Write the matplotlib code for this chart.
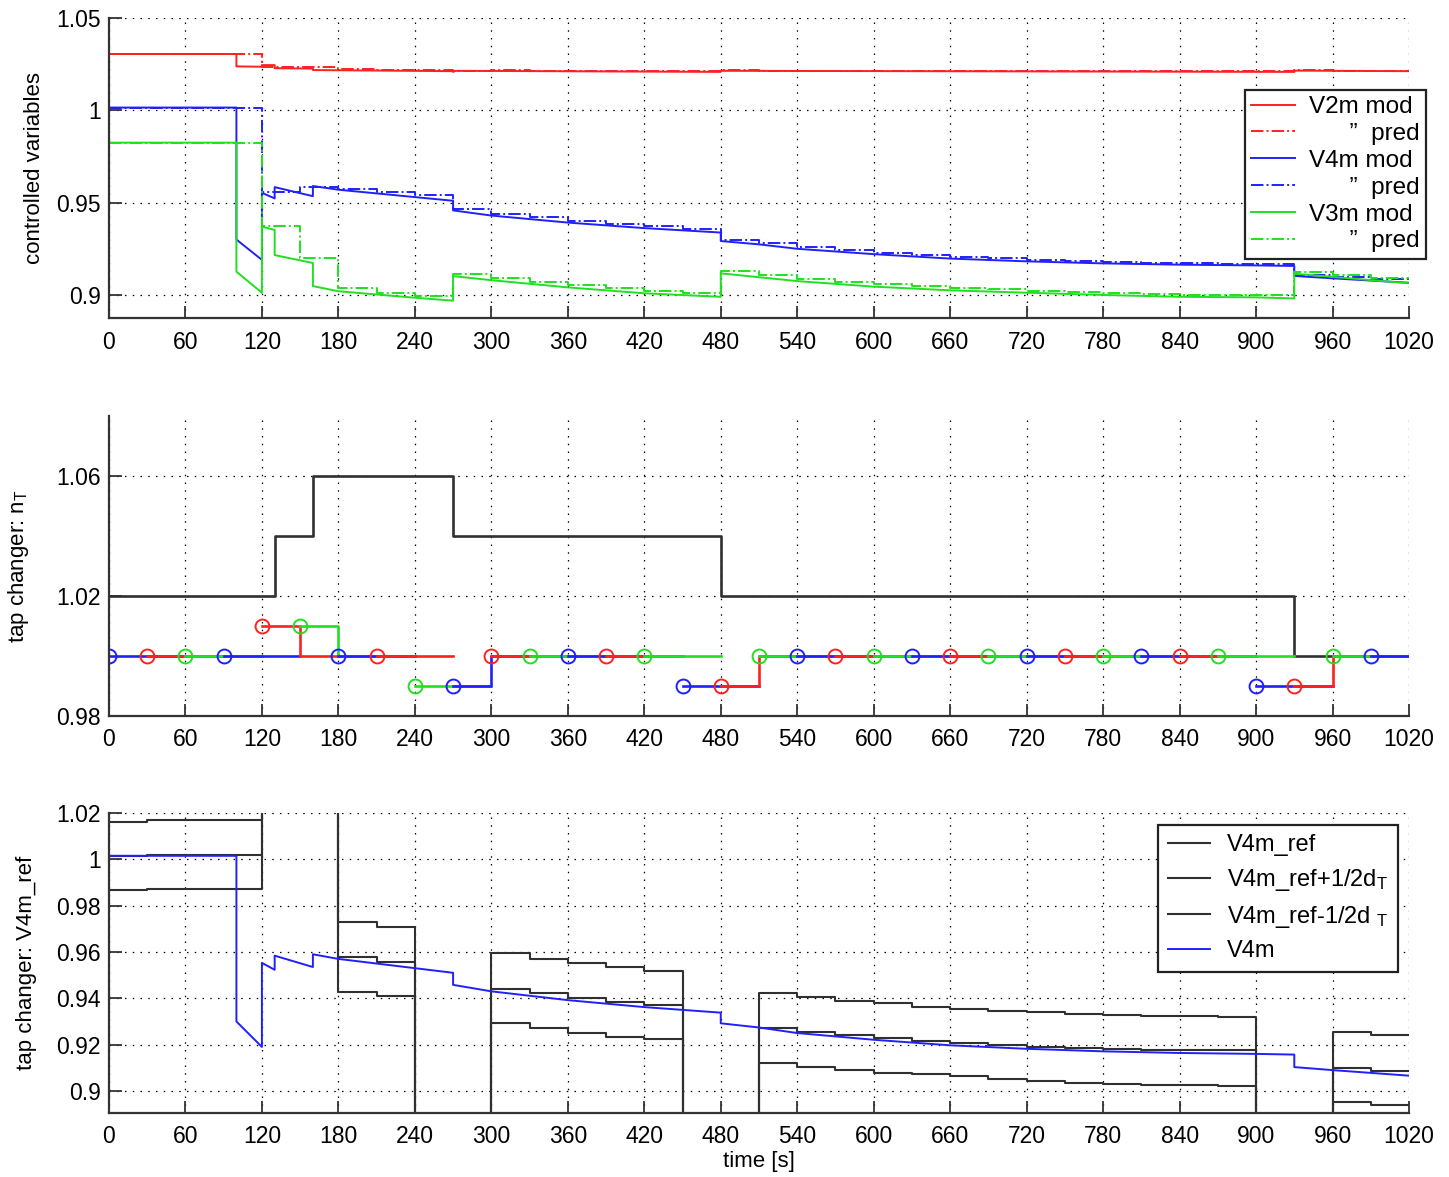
import matplotlib
matplotlib.use("Agg")
from matplotlib import pyplot as plt
from matplotlib.ticker import FuncFormatter

plt.rcParams['font.family'] = ['Liberation Sans', 'DejaVu Sans']
plt.rcParams['font.size'] = 16
plt.rcParams['mathtext.fontset'] = 'custom'
plt.rcParams['mathtext.rm'] = 'Liberation Sans'
plt.rcParams['mathtext.it'] = 'Liberation Sans'

RED = '#ff2020'
BLUE = '#2020ff'
GREEN = '#20e020'
DARK = '#303030'

# ---------------- top panel: controlled variables ----------------
# model outputs (repeated time = vertical jump)
t_v2m = [0, 100, 100, 120, 120, 130, 130, 160, 160, 270, 270, 272, 480, 480, 930, 930, 1020]
v2m = [1.0305, 1.0305, 1.0238, 1.0236, 1.0245, 1.0245, 1.0228, 1.0226, 1.0218, 1.0212,
       1.0208, 1.0214, 1.0208, 1.0214, 1.0208, 1.0215, 1.0212]

t_v4m = [0, 100, 100, 120, 120, 130, 130, 160, 160, 180, 270, 270, 300, 360, 420, 480, 480,
         510, 540, 600, 660, 720, 780, 840, 900, 930, 930, 960, 1020]
v4m = [1.0015, 1.0015, 0.930, 0.919, 0.9553, 0.9523, 0.9584, 0.9535, 0.959, 0.957, 0.951,
       0.9458, 0.943, 0.9392, 0.9362, 0.9338, 0.9292, 0.9274, 0.925, 0.9221, 0.9197, 0.9182,
       0.9171, 0.9164, 0.916, 0.9157, 0.9103, 0.909, 0.9066]

t_v3m = [0, 100, 100, 120, 120, 130, 130, 160, 160, 180, 240, 270, 270, 300, 360, 420, 480,
         480, 540, 600, 660, 720, 780, 840, 900, 930, 930, 960, 1020]
v3m = [0.9825, 0.9825, 0.9126, 0.9012, 0.937, 0.9352, 0.9216, 0.9173, 0.9048, 0.902, 0.8985,
       0.8969, 0.9102, 0.908, 0.9041, 0.9009, 0.899, 0.9117, 0.9075, 0.9045, 0.9025, 0.9012,
       0.9, 0.899, 0.8987, 0.8981, 0.9115, 0.9098, 0.9063]

# predictions, held over 30 s samples
t_pred = [0, 30, 60, 90, 120, 150, 180, 210, 240, 270, 300, 330, 360, 390, 420, 450, 480, 510,
          540, 570, 600, 630, 660, 690, 720, 750, 780, 810, 840, 870, 900, 930, 960, 990, 1020]
v2m_pred = [1.0305, 1.0305, 1.0305, 1.0305, 1.0236, 1.0232, 1.0222, 1.0218, 1.0216, 1.0214,
            1.0216, 1.0214, 1.0213, 1.0212, 1.0212, 1.0211, 1.0216, 1.0215, 1.0214, 1.0214,
            1.0213, 1.0213, 1.0212, 1.0212, 1.0212, 1.0211, 1.0211, 1.0211, 1.0211, 1.0211,
            1.0211, 1.0216, 1.0215, 1.0214, 1.0214]
v4m_pred = [1.0015, 1.0015, 1.0015, 1.0015, 0.9555, 0.9585, 0.9575, 0.9558, 0.9542, 0.9465,
            0.944, 0.942, 0.9402, 0.9386, 0.9371, 0.9358, 0.930, 0.9282, 0.9258, 0.9243,
            0.9229, 0.9217, 0.9205, 0.9198, 0.919, 0.9184, 0.9179, 0.9175, 0.9172, 0.917,
            0.9168, 0.911, 0.9097, 0.9085, 0.9085]
v3m_pred = [0.9825, 0.9825, 0.9825, 0.9825, 0.9375, 0.92, 0.9035, 0.9012, 0.8995, 0.9112,
            0.9092, 0.9072, 0.9053, 0.9037, 0.9021, 0.9012, 0.9128, 0.9108, 0.9087, 0.9072,
            0.9057, 0.9047, 0.9037, 0.903, 0.9024, 0.9018, 0.9012, 0.9007, 0.9002, 0.9,
            0.8999, 0.9125, 0.9108, 0.909, 0.909]

# ---------------- middle panel: tap changer ----------------
t_nT = [0, 130, 160, 270, 480, 930, 1020]
nT = [1.02, 1.04, 1.06, 1.04, 1.02, 1.00, 1.00]

# predicted tap sequence at every 30 s decision (first and second move)
t_dec = [0, 30, 60, 90, 120, 150, 180, 210, 240, 270, 300, 330, 360, 390, 420, 450, 480,
         510, 540, 570, 600, 630, 660, 690, 720, 750, 780, 810, 840, 870, 900, 930, 960, 990]
u_first = [1.0, 1.0, 1.0, 1.0, 1.01, 1.01, 1.0, 1.0, 0.99, 0.99, 1.0, 1.0, 1.0, 1.0, 1.0,
           0.99, 0.99, 1.0, 1.0, 1.0, 1.0, 1.0, 1.0, 1.0, 1.0, 1.0, 1.0, 1.0, 1.0, 1.0,
           0.99, 0.99, 1.0, 1.0]
u_second = [1.0, 1.0, 1.0, 1.0, 1.0, 1.0, 1.0, 1.0, 0.99, 1.0, 1.0, 1.0, 1.0, 1.0, 1.0,
            0.99, 1.0, 1.0, 1.0, 1.0, 1.0, 1.0, 1.0, 1.0, 1.0, 1.0, 1.0, 1.0, 1.0, 1.0,
            0.99, 1.0, 1.0, 1.0]
dec_colors = [BLUE, RED, GREEN]

# ---------------- bottom panel: reference band ----------------
HI, LO = 1.1, 0.8   # band switched off (out of view)
t_ref = [0, 30, 120, 180, 210, 240, 300, 330, 360, 390, 420, 450, 510, 540, 570, 600, 630,
         660, 690, 720, 750, 780, 810, 840, 870, 900, 960, 990, 1020]
ref_mid = [1.0015, 1.002, HI, 0.958, 0.9558, LO, 0.9439, 0.9422, 0.94, 0.9386, 0.9371, LO,
           0.9271, 0.9256, 0.9242, 0.9228, 0.9217, 0.9206, 0.9199, 0.9191, 0.9186, 0.918,
           0.9178, 0.9175, 0.9175, LO, 0.9098, 0.9088, 0.9088]
ref_hi = [1.0162, 1.0168, HI, 0.9731, 0.9707, LO, 0.9594, 0.9568, 0.9551, 0.9534, 0.9518, LO,
          0.9424, 0.9404, 0.9389, 0.9379, 0.9364, 0.9354, 0.9347, 0.934, 0.9334, 0.9328,
          0.9325, 0.9323, 0.9321, LO, 0.9253, 0.924, 0.924]
ref_lo = [0.9868, 0.9872, HI, 0.9429, 0.941, LO, 0.9295, 0.9271, 0.9252, 0.9232, 0.9223, LO,
          0.9122, 0.9105, 0.9091, 0.9077, 0.9074, 0.9065, 0.9051, 0.9043, 0.9036, 0.903,
          0.9026, 0.9024, 0.9023, LO, 0.8954, 0.894, 0.894]

x_ticks = list(range(0, 1021, 60))

fig = plt.figure(figsize=(14.49, 11.77), dpi=100)
ax1 = fig.add_axes([0.0752, 0.7298, 0.8972, 0.2549])
ax2 = fig.add_axes([0.0752, 0.3917, 0.8972, 0.2549])
ax3 = fig.add_axes([0.0752, 0.0544, 0.8972, 0.2549])

fmt = FuncFormatter(lambda v, p: '%g' % round(v, 4))


def style(ax, yticks, ylim):
    ax.set_xlim(0, 1020)
    ax.set_ylim(*ylim)
    ax.set_xticks(x_ticks)
    ax.set_yticks(yticks)
    ax.yaxis.set_major_formatter(fmt)
    ax.grid(True, linestyle=(0, (1.2, 5)), color='k', linewidth=0.9)
    for s in ['top', 'right']:
        ax.spines[s].set_visible(False)
    for s in ['left', 'bottom']:
        ax.spines[s].set_linewidth(1.6)
        ax.spines[s].set_color('#333333')
    ax.tick_params(direction='in', length=9, width=1.3, color='#333333', labelsize=16.5)
    ax.tick_params(axis='x', pad=9)
    ax.tick_params(axis='y', pad=6)


# top
ax1.plot(t_v2m, v2m, color=RED, lw=1.4, label='V2m mod')
ax1.plot(t_pred, v2m_pred, color=RED, lw=1.4, ls='-.', drawstyle='steps-post',
         label='      \u201d  pred')
ax1.plot(t_v4m, v4m, color=BLUE, lw=1.4, label='V4m mod')
ax1.plot(t_pred, v4m_pred, color=BLUE, lw=1.4, ls='-.', drawstyle='steps-post',
         label='      \u201d  pred')
ax1.plot(t_v3m, v3m, color=GREEN, lw=1.4, label='V3m mod')
ax1.plot(t_pred, v3m_pred, color=GREEN, lw=1.4, ls='-.', drawstyle='steps-post',
         label='      \u201d  pred')
style(ax1, [0.9, 0.95, 1.0, 1.05], (0.8875, 1.05))
ax1.set_ylabel('controlled variables', fontsize=16, labelpad=8)
leg = ax1.legend(loc='upper right', bbox_to_anchor=(1.013, 0.76), borderaxespad=0,
                 fontsize=17.5, fancybox=False, framealpha=1, edgecolor='#222222',
                 handlelength=1.8, labelspacing=0.2, borderpad=0.25, handletextpad=0.6)
leg.get_frame().set_linewidth(1.6)

# middle
ax2.plot(t_nT, nT, color=DARK, lw=1.9, drawstyle='steps-post')
for i, t in enumerate(t_dec):
    ax2.plot([t, t + 30, t + 60], [u_first[i], u_second[i], u_second[i]],
             color=dec_colors[i % 3], lw=1.9, drawstyle='steps-post',
             marker='o', markevery=[0], markersize=10, markerfacecolor='none',
             markeredgewidth=1.4)
style(ax2, [0.98, 1.02, 1.06], (0.98, 1.08))
ax2.set_ylabel('tap changer: n$_T$', fontsize=16, labelpad=18)

# bottom
ax3.plot(t_ref, ref_mid, color=DARK, lw=1.5, drawstyle='steps-post', label='V4m_ref')
ax3.plot(t_ref, ref_hi, color=DARK, lw=1.5, drawstyle='steps-post',
         label='V4m_ref+1/2d$_T$')
ax3.plot(t_ref, ref_lo, color=DARK, lw=1.5, drawstyle='steps-post',
         label='V4m_ref-1/2d $_T$')
ax3.plot(t_v4m, v4m, color=BLUE, lw=1.4, label='V4m')
style(ax3, [0.9, 0.92, 0.94, 0.96, 0.98, 1.0, 1.02], (0.8905, 1.02))
ax3.set_ylabel('tap changer: V4m_ref', fontsize=16, labelpad=14)
ax3.set_xlabel('time [s]', fontsize=16, labelpad=2)
leg3 = ax3.legend(loc='upper right', bbox_to_anchor=(0.9915, 0.96), borderaxespad=0,
                  fontsize=17, fancybox=False, framealpha=1, edgecolor='#222222',
                  handlelength=1.8, labelspacing=0.45, borderpad=0.4, handletextpad=0.7)
leg3.get_frame().set_linewidth(1.6)

fig.savefig('out.png', dpi=100)
